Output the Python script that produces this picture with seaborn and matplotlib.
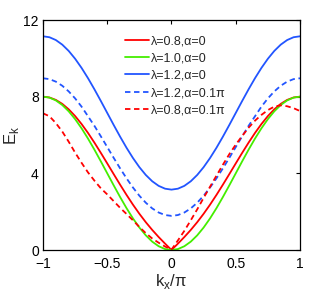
import matplotlib
matplotlib.use("Agg")
import matplotlib.pyplot as plt
import seaborn as sns
import pandas as pd

kx = [-1.00, -0.95, -0.90, -0.85, -0.80, -0.75, -0.70, -0.65, -0.60, -0.55, -0.50,
      -0.45, -0.40, -0.35, -0.30, -0.25, -0.20, -0.15, -0.10, -0.05, 0.00,
      0.05, 0.10, 0.15, 0.20, 0.25, 0.30, 0.35, 0.40, 0.45, 0.50,
      0.55, 0.60, 0.65, 0.70, 0.75, 0.80, 0.85, 0.90, 0.95, 1.00]

half_red = [0.0, 0.332, 0.677, 1.047, 1.450, 1.890, 2.366, 2.875, 3.409, 3.960, 4.517,
            5.068, 5.603, 6.109, 6.574, 6.988, 7.340, 7.624, 7.831, 7.958, 8.0]
half_green = [0.0, 0.049, 0.196, 0.436, 0.764, 1.172, 1.649, 2.184, 2.764, 3.374, 4.0,
              4.626, 5.236, 5.816, 6.351, 6.828, 7.236, 7.564, 7.804, 7.951, 8.0]
half_blue = [3.150, 3.199, 3.346, 3.586, 3.914, 4.322, 4.799, 5.334, 5.914, 6.524, 7.150,
             7.776, 8.386, 8.966, 9.501, 9.978, 10.386, 10.714, 10.954, 11.101, 11.150]
half_blue_d = [1.780, 1.824, 1.956, 2.171, 2.466, 2.831, 3.260, 3.740, 4.261, 4.808, 5.370,
               5.932, 6.479, 6.980, 7.480, 7.909, 8.274, 8.569, 8.784, 8.916, 8.960]

E_red = half_red[::-1] + half_red[1:]
E_green = half_green[::-1] + half_green[1:]
E_blue = half_blue[::-1] + half_blue[1:]
E_blue_d = half_blue_d[::-1] + half_blue_d[1:]
E_red_d = [7.13, 6.98, 6.62, 6.18, 5.65, 5.08, 4.55, 4.05, 3.62, 3.22, 2.90,
           2.55, 2.20, 1.88, 1.55, 1.20, 0.88, 0.60, 0.38, 0.18, 0.02,
           0.50, 1.00, 1.55, 2.12, 2.72, 3.30, 3.88, 4.45, 5.00, 5.50,
           5.95, 6.38, 6.75, 7.05, 7.30, 7.48, 7.55, 7.50, 7.40, 7.25]

labels = ["λ=0.8,α=0", "λ=1.0,α=0", "λ=1.2,α=0", "λ=1.2,α=0.1π", "λ=0.8,α=0.1π"]
series = [E_red, E_green, E_blue, E_blue_d, E_red_d]
colors = ["#ff0000", "#44ee00", "#2255ff", "#2255ff", "#ff0000"]
styles = ["-", "-", "-", "--", "--"]

sns.set_style("white")
plt.rcParams['font.family'] = ['Liberation Sans', 'DejaVu Sans']

fig = plt.figure(figsize=(3.32, 2.90), dpi=100)
ax = fig.add_axes([43/332, 1-250/290, 257/332, 230/290])

for lab, ys, c, ls in zip(labels, series, colors, styles):
    df = pd.DataFrame({"kx": kx, "E": ys})
    sns.lineplot(data=df, x="kx", y="E", ax=ax, color=c, lw=1.3, label=lab,
                 linestyle=ls, estimator=None, sort=False)
for line in ax.get_lines():
    if line.get_linestyle() == '--':
        line.set_dashes((3, 2))

ax.set_xlim(-1, 1)
ax.set_ylim(0, 12)
ax.set_xticks([-1, -0.5, 0, 0.5, 1])
ax.set_xticklabels(["−1", "−0.5", "0", "0.5", "1"])
ax.set_yticks([0, 4, 8, 12])
ax.tick_params(direction="in", length=3, width=0.8, top=True, right=True,
               labelsize=10, colors="black")
ax.tick_params(axis="x", pad=5)
ax.tick_params(axis="y", pad=3)
for s in ax.spines.values():
    s.set_visible(True)
    s.set_color("black")
    s.set_linewidth(0.9)
ax.set_xlabel("k$_\\mathregular{x}$/π", fontsize=12, labelpad=0.5)
ax.set_ylabel("E$_\\mathregular{k}$", fontsize=12, labelpad=2)

leg = ax.legend(loc="upper left", bbox_to_anchor=(0.30, 0.955), frameon=False,
                fontsize=9, handlelength=1.9, handletextpad=0.15, labelspacing=0.42,
                borderaxespad=0)
for h in leg.get_lines():
    h.set_linewidth(1.3)

fig.savefig("out.png", dpi=100)
